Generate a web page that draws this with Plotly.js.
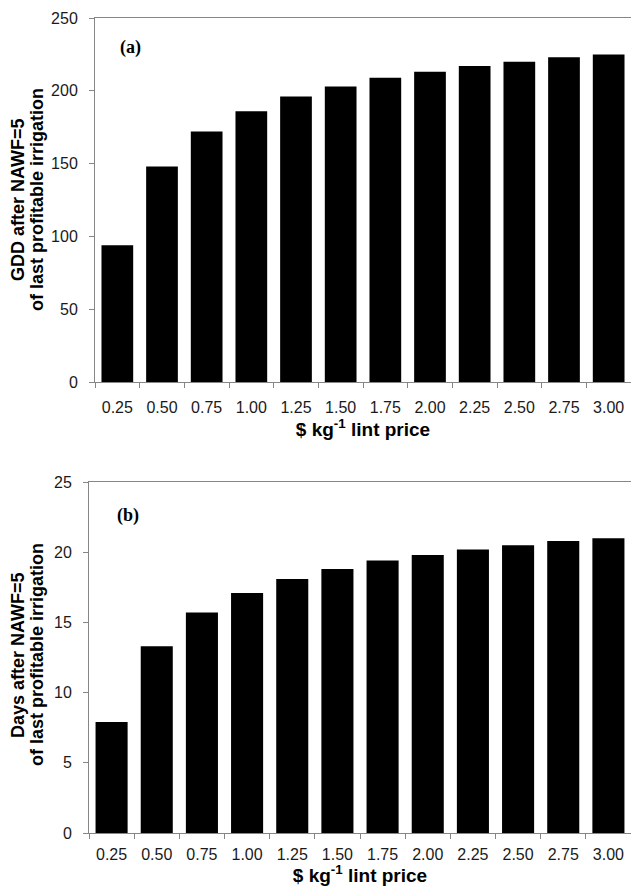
<!DOCTYPE html>
<html>
<head>
<meta charset="utf-8">
<script src="https://cdn.plot.ly/plotly-3.0.1.min.js"></script>
<style>html,body{margin:0;padding:0;background:#fff;}#chart{width:631px;height:886px;}</style>
</head>
<body>
<div id="chart"></div>
<script>
// Data
const prices = ["0.25","0.50","0.75","1.00","1.25","1.50","1.75","2.00","2.25","2.50","2.75","3.00"];
const gddAfter = [94, 148, 172, 186, 196, 203, 209, 213, 217, 220, 223, 225];
const daysAfter = [7.9, 13.3, 15.7, 17.1, 18.1, 18.8, 19.4, 19.8, 20.2, 20.5, 20.8, 21.0];
const xTitle = "$ kg<sup>-1</sup> lint price";
const yTitleA = ["GDD after NAWF=5", "of last profitable irrigation"];
const yTitleB = ["Days after NAWF=5", "of last profitable irrigation"];

const W = 631, H = 886;
const SANS = "Arial, 'Liberation Sans', sans-serif";
const tickFont = {family: SANS, size: 16, color: "#1a1a1a"};
const titleFont = {family: SANS, size: 19, color: "#000", weight: "bold"};

function xAxis(domainLeft, anchor, labelStandoff, standoff) {
  return {
    type: "category", domain: [domainLeft / W, 1], anchor: anchor,
    showline: true, linecolor: "#868686", linewidth: 1, mirror: true,
    ticks: "outside", tickson: "boundaries", ticklen: 5, tickcolor: "#868686",
    ticklabelstandoff: labelStandoff,
    showgrid: false, zeroline: false, tickfont: tickFont,
    title: {text: xTitle, font: titleFont, standoff: standoff}
  };
}
function yAxis(top, bottom, range, dtick, anchor) {
  return {
    domain: [(H - bottom) / H, (H - top) / H], anchor: anchor,
    range: range, dtick: dtick, tick0: 0,
    showline: true, linecolor: "#868686", linewidth: 1,
    ticks: "outside", ticklen: 5, tickcolor: "#868686",
    ticklabelstandoff: 8,
    showgrid: false, zeroline: false, tickfont: tickFont
  };
}
function yTitle(lines, cx1, cx2, cy) {
  return lines.map((t, i) => ({
    text: "<b>" + t + "</b>", xref: "paper", yref: "paper",
    x: (i === 0 ? cx1 : cx2) / W, y: (H - cy) / H,
    showarrow: false, textangle: -90, xanchor: "center", yanchor: "middle",
    font: {family: SANS, size: 18, color: "#000"}
  }));
}

const traces = [
  {type: "bar", x: prices, y: gddAfter, xaxis: "x", yaxis: "y",
   marker: {color: "#000", line: {width: 0}}, hoverinfo: "x+y"},
  {type: "bar", x: prices, y: daysAfter, xaxis: "x2", yaxis: "y2",
   marker: {color: "#000", line: {width: 0}}, hoverinfo: "x+y"}
];

const panelFont = {family: "'Times New Roman', 'Liberation Serif', serif", size: 18, color: "#000", weight: "bold"};

const layout = {
  width: W, height: H,
  margin: {l: 0, r: 0, t: 0, b: 0},
  paper_bgcolor: "#fff", plot_bgcolor: "#fff",
  showlegend: false, bargap: 0.29,
  xaxis: xAxis(95, "y", 11, 5),
  yaxis: yAxis(18, 382, [0, 250], 50, "x"),
  xaxis2: xAxis(89, "y2", 7, 7),
  yaxis2: yAxis(482, 833, [0, 25], 5, "x2"),
  annotations: [
    {text: "(a)", xref: "paper", yref: "paper", x: 130 / W, y: (H - 48) / H,
     showarrow: false, xanchor: "center", yanchor: "middle", font: panelFont},
    {text: "(b)", xref: "paper", yref: "paper", x: 128 / W, y: (H - 515) / H,
     showarrow: false, xanchor: "center", yanchor: "middle", font: panelFont}
  ].concat(yTitle(yTitleA, 18, 37, 200), yTitle(yTitleB, 18, 37, 655))
};

Plotly.newPlot("chart", traces, layout, {displayModeBar: false, staticPlot: true});
</script>
</body>
</html>
